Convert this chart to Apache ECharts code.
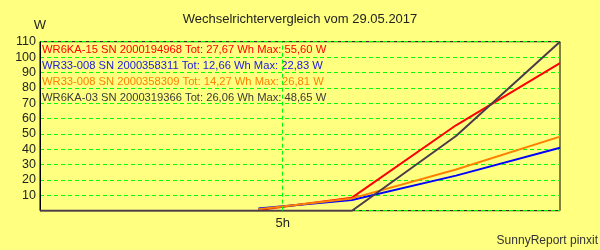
<!DOCTYPE html>
<html><head><meta charset="utf-8">
<script src="https://cdn.jsdelivr.net/npm/echarts@6/dist/echarts.min.js"></script>
<style>html,body{margin:0;padding:0;background:#ffff80;}#c{width:600px;height:250px;}</style>
</head><body><div id="c"></div>
<script>
// time in minutes since midnight
var times = [265, 296.5, 310, 325, 340];
var seriesNames = [
  'WR6KA-15 SN 2000194968 Tot: 27,67 Wh Max: 55,60 W',
  'WR33-008 SN 2000358311 Tot: 12,66 Wh Max: 22,83 W',
  'WR33-008 SN 2000358309 Tot: 14,27 Wh Max: 26,81 W',
  'WR6KA-03 SN 2000319366 Tot: 26,06 Wh Max: 48,65 W'
];
var redVals    = [null, 0.5, 8.5, 55.6, 96];
var blueVals   = [null, 1.5, 7.0, 22.83, 41];
var orangeVals = [null, 1.0, 8.0, 26.81, 48.2];
var darkVals   = [0, 0, 0, 48.65, 110];
var hourTick = 300; // 5h
var hourLabel = '5h';
var title = 'Wechselrichtervergleich vom 29.05.2017';
var unit = 'W';
var footer = 'SunnyReport pinxit';

var colors = ['#ff0000', '#0000ff', '#ff8000', '#4a3a4a'];
var textColors = ['#ff0000', '#2020e0', '#ff8000', '#3a3a3a'];
var allVals = [redVals, blueVals, orangeVals, darkVals];

function pairs(v){ return times.map(function(t,i){ return [t, v[i]]; }); }

var font = 'Liberation Sans, Arial, sans-serif';
var series = allVals.map(function(v, i){
  var s = {
    name: seriesNames[i], type: 'line', data: pairs(v), symbol: 'none',
    lineStyle: {color: colors[i], width: 2}, itemStyle: {color: colors[i]},
    connectNulls: false, animation: false
  };
  if (i === 0) {
    s.markLine = {silent: true, symbol: 'none', label: {show: false},
      lineStyle: {color: '#00ff00', type: [4, 3], width: 1},
      data: [{xAxis: hourTick}]};
  }
  return s;
});

var chart = echarts.init(document.getElementById('c'), null, {renderer: 'canvas'});
chart.setOption({
  animation: false,
  backgroundColor: '#ffff80',
  title: {text: title, left: 'center', top: 8,
    textStyle: {fontFamily: font, fontSize: 13, fontWeight: 'normal', color: '#222'}},
  grid: {left: 40, right: 40, top: 41.7, height: 169, show: true, borderColor: '#000', borderWidth: 1},
  legend: {
    orient: 'vertical', left: 42, top: 41.5, padding: 0, itemGap: 0, itemWidth: 0, itemHeight: 16,
    icon: 'none', selectedMode: false,
    data: seriesNames.map(function(n, i){ return {name: n, textStyle: {color: textColors[i]}}; }),
    textStyle: {fontFamily: font, fontSize: 11.2, lineHeight: 16, padding: [0,0,0,-5]}
  },
  xAxis: {
    type: 'value', min: 265, max: 340, interval: 5,
    axisLine: {show: false}, axisTick: {show: false}, splitLine: {show: false},
    axisLabel: {fontFamily: font, fontSize: 13, color: '#222', margin: 6,
      formatter: function(v){ return v === hourTick ? hourLabel : ''; }}
  },
  yAxis: {
    type: 'value', min: 0, max: 110, interval: 10,
    name: unit, nameLocation: 'end', nameGap: 10,
    nameTextStyle: {fontFamily: font, fontSize: 13, color: '#222', align: 'center'},
    axisLine: {show: true, lineStyle: {color: '#000'}}, axisTick: {show: false},
    splitLine: {show: true, lineStyle: {color: '#00ff00', type: [4, 3], width: 1}},
    axisLabel: {fontFamily: font, fontSize: 12.5, color: '#222', margin: 4,
      formatter: function(v){ return v === 0 ? '' : String(v); }}
  },
  graphic: [{type: 'text', right: 2, bottom: 3,
    style: {text: footer, font: '12px ' + font, fill: '#333'}}],
  series: series
});
</script></body></html>
